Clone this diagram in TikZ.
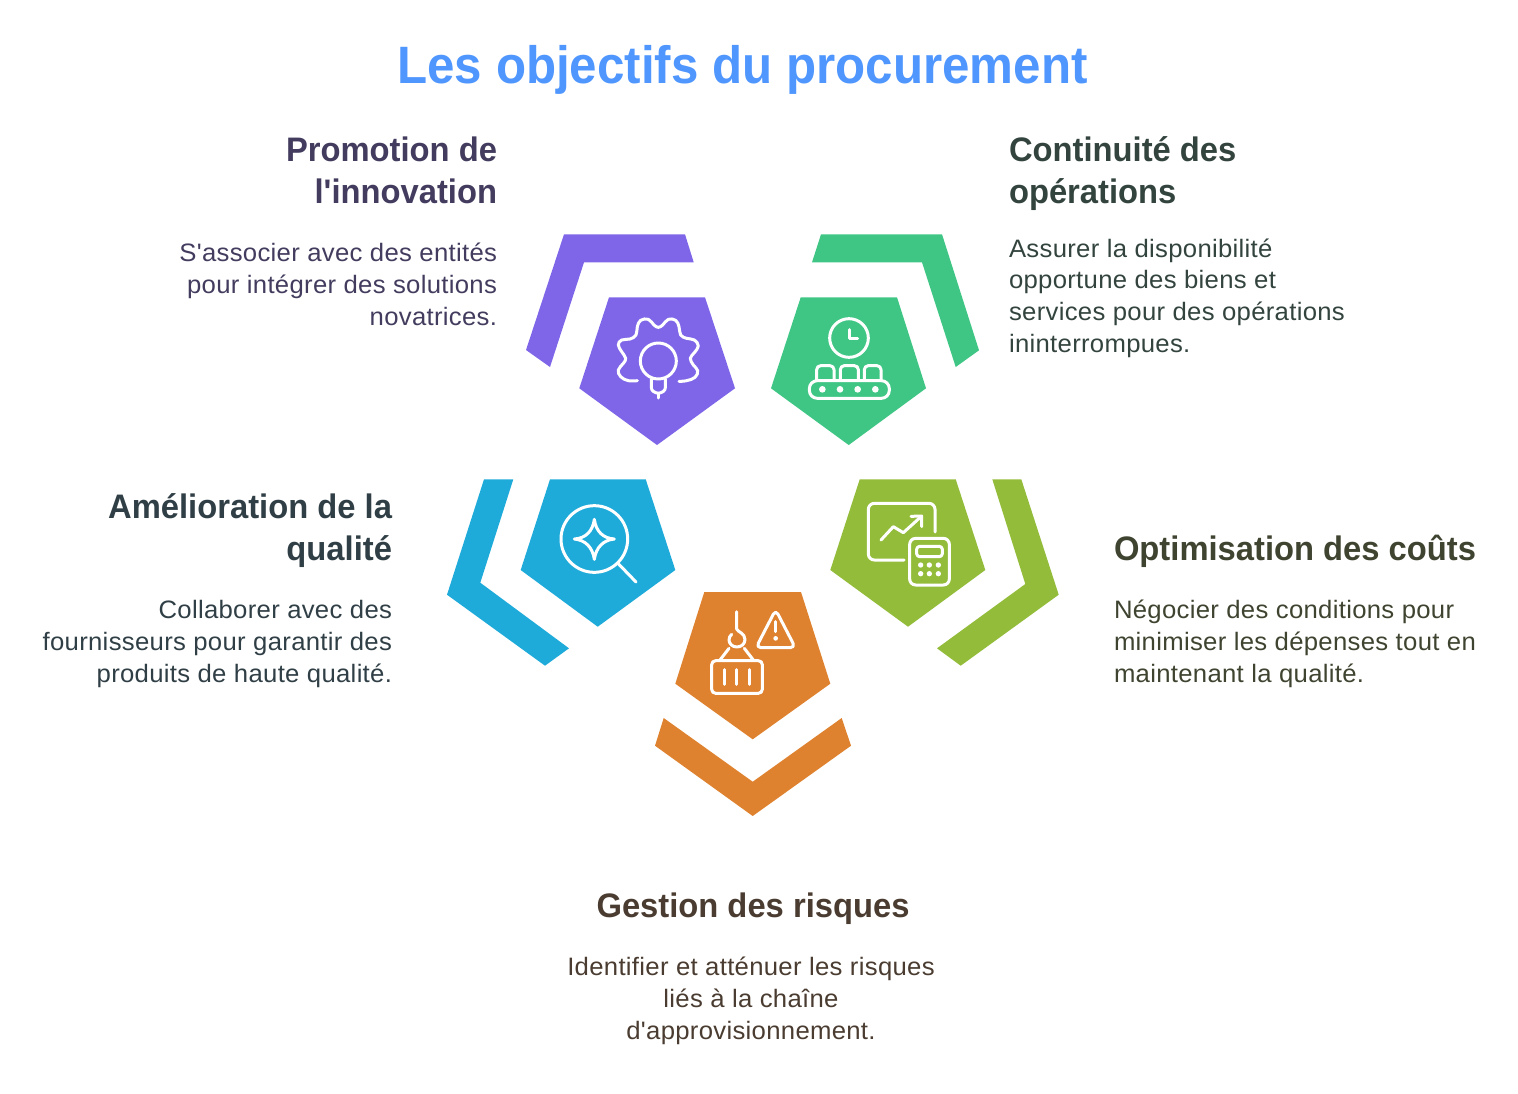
\documentclass[tikz,border=0pt]{standalone}
\usepackage{fontspec}
\setmainfont{Liberation Sans}[Ligatures=TeXOff]
\newfontfamily\bodyfam{Liberation Sans}[Ligatures=TeXOff,FakeStretch=1.02,LetterSpace=1.2]
\newfontfamily\headfam{Liberation Sans}[Ligatures=TeXOff,FakeStretch=0.963,BoldFont={Liberation Sans Bold}]
\newfontfamily\titlefam{Liberation Sans Bold}[Ligatures=TeXOff,FakeStretch=0.937]
\definecolor{cpurple}{HTML}{7F66E9}
\definecolor{cgreen}{HTML}{3FC684}
\definecolor{cblue}{HTML}{1EABDA}
\definecolor{colive}{HTML}{93BC3A}
\definecolor{corange}{HTML}{DF8230}
\definecolor{ctitle}{HTML}{4F96FF}
\definecolor{tpurple}{HTML}{433C5E}
\definecolor{tgreen}{HTML}{33443E}
\definecolor{tblue}{HTML}{303F46}
\definecolor{tolive}{HTML}{3E4430}
\definecolor{torange}{HTML}{4A3C30}
\newcommand{\bodyfont}{\bodyfam\fontsize{12.6pt}{15.8pt}\selectfont}
\newcommand{\headfont}{\headfam\fontsize{17pt}{21pt}\selectfont\bfseries}
\tikzset{
  txt/.style={inner sep=0pt,outer sep=0pt},
  icon/.style={draw=white,line width=1.5pt,line cap=round,line join=round,fill=none},
  dot/.style={fill=white,draw=none}
}
\begin{document}
\begin{tikzpicture}[x=0.5pt,y=-0.5pt]
\useasboundingbox (0,0) rectangle (1518,1093);
% title
\node[txt,anchor=base,text=ctitle,font=\titlefam\fontsize{26.3pt}{30pt}\selectfont] (title) at (742.5,83) {Les objectifs du procurement};
% shapes
\fill[cpurple] (609,297.3)--(705,297.3)--(735,388.3)--(657,445)--(579.3,388.3)--cycle;
\fill[cpurple] (564,234.3)--(685,234.3)--(693.7,262.3)--(584,262.3)--(550,367)--(526,350)--cycle;
\fill[cgreen] (800.7,297.3)--(897,297.3)--(926,388.3)--(848.7,445)--(771,388.3)--cycle;
\fill[cgreen] (821,234.3)--(942,234.3)--(979,350.3)--(955.7,367)--(922,262.3)--(812,262.3)--cycle;
\fill[cblue] (550,479.3)--(645.7,479.3)--(675.3,570)--(597.7,626.7)--(520.7,570)--cycle;
\fill[cblue] (484,479.3)--(513.3,479.3)--(480.3,582.7)--(569,648.3)--(545,665.7)--(447,594.7)--cycle;
\fill[colive] (859.7,479.3)--(955.7,479.3)--(985.3,570)--(908,626.7)--(830.3,570)--cycle;
\fill[colive] (992.3,479.3)--(1021.3,479.3)--(1058.7,594.7)--(960.7,665.7)--(937,648.3)--(1025.3,584)--cycle;
\fill[corange] (704.3,592)--(801,592)--(830.3,683.7)--(752.7,739.3)--(675.3,683.7)--cycle;
\fill[corange] (663.7,718)--(752.7,781.7)--(841.7,718)--(851,745.7)--(752.7,816)--(655,745.7)--cycle;
% gear-bulb icon
\begin{scope}[shift={(510,220)},x=0.5pt/3,y=-0.5pt/3]
\draw[icon] plot[smooth,tension=0.7] coordinates {(382,482)(355,482)(332,470)(325,450)(340,430)(347,415)(335,395)(325,375)(335,360)(360,357)(378,345)(382,320)(392,301)(415,298)(432,315)(445,322)(458,315)(475,298)(497,301)(507,320)(512,345)(530,355)(553,360)(565,378)(553,398)(541,415)(550,435)(563,452)(555,472)(530,482)(507,484)};
\draw[icon] (445,423) circle[radius=54];
\draw[icon] (424,478)--(424,503)..controls (424,512) and (433,518)..(445,520)..controls (457,518) and (466,512)..(466,503)--(466,478);
\draw[icon] (445,520)--(445,534);
\end{scope}
% clock conveyor icon
\begin{scope}[shift={(760,220)},x=0.5pt/3,y=-0.5pt/3]
\draw[icon] (267,354) circle[radius=58];
\draw[icon] (267,329)--(267,354)--(293,354);
\draw[icon,rounded corners=4pt] (148,482) rectangle (388,535);
\draw[icon,rounded corners=2pt] (170,480)--(170,437)--(222,437)--(222,480);
\draw[icon,rounded corners=2pt] (241,480)--(241,437)--(295,437)--(295,480);
\draw[icon,rounded corners=2pt] (313,480)--(313,437)--(363,437)--(363,480);
\foreach \p in {187,240,293,346}{\fill[dot] (\p,508) circle[radius=10];}
\end{scope}
% magnifier icon
\begin{scope}[shift={(440,470)},x=0.5pt/3,y=-0.5pt/3]
\draw[icon] (463,207) circle[radius=100];
\draw[icon] (533,279)--(588,336);
\draw[icon] (463,148)..controls (468,185) and (490,205)..(523,207)..controls (490,210) and (468,232)..(463,268)..controls (458,232) and (436,210)..(403,207)..controls (436,205) and (458,185)..(463,148)--cycle;
\end{scope}
% chart calculator icon
\begin{scope}[shift={(825,470)},x=0.5pt/3,y=-0.5pt/3]
\draw[icon,rounded corners=3pt] (330,186)--(330,100)--(130,100)--(130,270)--(237,270);
\draw[icon] (168,210)--(205,170)--(235,188)--(288,140);
\draw[icon] (258,139)--(290,138)--(290,170);
\draw[icon,rounded corners=3pt] (254,205) rectangle (373,345);
\draw[icon,rounded corners=1.5pt] (275,229) rectangle (352,260);
\foreach \p in {287,313,340}{\foreach \q in {285,311}{\fill[dot] (\p,\q) circle[radius=8];}}
\end{scope}
% hook container icon
\begin{scope}[shift={(650,585)},x=0.5pt/3,y=-0.5pt/3]
\draw[icon] (260,80)--(260,132)..controls (262,140) and (285,145)..(285,163)..controls (285,177) and (274,186)..(260,186)..controls (247,186) and (237,175)..(237,165)..controls (237,158) and (240,152)..(245,148);
\draw[icon] (237,190)--(210,225);
\draw[icon] (283,190)--(310,225);
\draw[icon,rounded corners=2pt] (185,227) rectangle (337,325);
\foreach \p in {223,260,298}{\draw[icon] (\p,254)--(\p,298);}
\draw[icon,rounded corners=2.5pt] (377,74)--(436,188)--(318,188)--cycle;
\draw[icon] (377,110)--(377,140);
\fill[dot] (377,160) circle[radius=7];
\end{scope}
% texts
\node[txt,anchor=base east,align=right,text=tpurple,font=\headfont] (h1) at (497,203) {Promotion de\\l'innovation};
\node[txt,anchor=base east,align=right,text=tpurple,font=\bodyfont] (b1) at (497,325) {S'associer avec des entités\\pour intégrer des solutions\\novatrices.};
\node[txt,anchor=base west,align=left,text=tgreen,font=\headfont] (h2) at (1009,203) {Continuité des\\opérations};
\node[txt,anchor=base west,align=left,text=tgreen,font=\bodyfont] (b2) at (1009,352) {Assurer la disponibilité\\opportune des biens et\\services pour des opérations\\ininterrompues.};
\node[txt,anchor=base east,align=right,text=tblue,font=\headfont] (h3) at (392,560) {Amélioration de la\\qualité};
\node[txt,anchor=base east,align=right,text=tblue,font=\bodyfont] (b3) at (392,682) {Collaborer avec des\\fournisseurs pour garantir des\\produits de haute qualité.};
\node[txt,anchor=base west,align=left,text=tolive,font=\headfont] (h4) at (1114,560) {Optimisation des coûts};
\node[txt,anchor=base west,align=left,text=tolive,font=\bodyfont] (b4) at (1114,682) {Négocier des conditions pour\\minimiser les dépenses tout en\\maintenant la qualité.};
\node[txt,anchor=base,align=center,text=torange,font=\headfont] (h5) at (753,917) {Gestion des risques};
\node[txt,anchor=base,align=center,text=torange,font=\bodyfont] (b5) at (751,1039) {Identifier et atténuer les risques\\liés à la chaîne\\d'approvisionnement.};
\end{tikzpicture}
\end{document}
